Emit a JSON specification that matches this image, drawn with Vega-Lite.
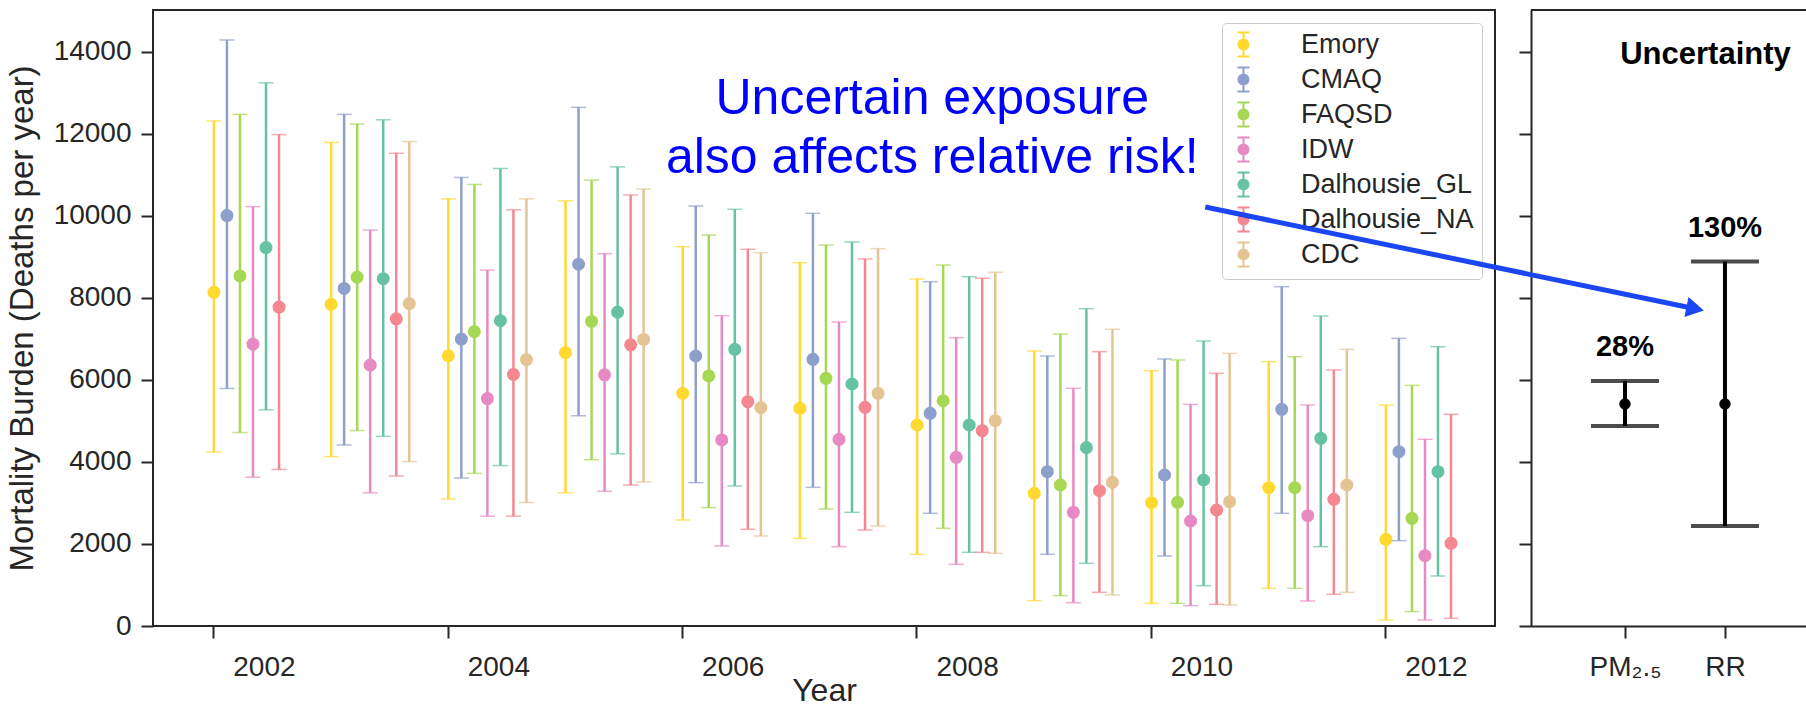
{
  "$schema": "https://vega.github.io/schema/vega-lite/v6.json",
  "padding": {"left": 5, "top": 9, "right": 0, "bottom": 0},
  "bounds": "flush",
  "spacing": 36,
  "resolve": {"scale": {"color": "independent"}, "legend": {"color": "independent"}},
  "config": {
    "font": "Liberation Sans",
    "view": {"stroke": "#262626", "strokeWidth": 2},
    "axis": {
      "grid": false, "labelFont": "Liberation Sans", "titleFont": "Liberation Sans",
      "labelColor": "#262626", "titleColor": "#262626", "tickColor": "#262626", "domainColor": "#262626",
      "labelFontSize": 28, "titleFontSize": 32, "titleFontWeight": "normal",
      "tickSize": 12, "tickWidth": 2, "domainWidth": 2
    },
    "legend": {
      "symbolType": "M-0.5,-1H0.5M0,-1V1M-0.5,1H0.5M0.42,0A0.42,0.42,0,1,1,-0.42,0A0.42,0.42,0,1,1,0.42,0Z",
      "symbolSize": 576, "symbolStrokeWidth": 2, "symbolOpacity": 1
    }
  },
  "datasets": {
    "burden": [
      {"year": 2002, "model": "Emory", "mean": 8139, "lower": 4245, "upper": 12318},
      {"year": 2002, "model": "CMAQ", "mean": 10010, "lower": 5793, "upper": 14293},
      {"year": 2002, "model": "FAQSD", "mean": 8538, "lower": 4720, "upper": 12479},
      {"year": 2002, "model": "IDW", "mean": 6876, "lower": 3628, "upper": 10228},
      {"year": 2002, "model": "Dalhousie_GL", "mean": 9231, "lower": 5271, "upper": 13248},
      {"year": 2002, "model": "Dalhousie_NA", "mean": 7778, "lower": 3818, "upper": 11985},
      {"year": 2003, "model": "Emory", "mean": 7844, "lower": 4131, "upper": 11795},
      {"year": 2003, "model": "CMAQ", "mean": 8234, "lower": 4416, "upper": 12479},
      {"year": 2003, "model": "FAQSD", "mean": 8509, "lower": 4767, "upper": 12242},
      {"year": 2003, "model": "IDW", "mean": 6363, "lower": 3248, "upper": 9658},
      {"year": 2003, "model": "Dalhousie_GL", "mean": 8471, "lower": 4625, "upper": 12346},
      {"year": 2003, "model": "Dalhousie_NA", "mean": 7493, "lower": 3656, "upper": 11529},
      {"year": 2003, "model": "CDC", "mean": 7863, "lower": 4008, "upper": 11814},
      {"year": 2004, "model": "Emory", "mean": 6591, "lower": 3096, "upper": 10418},
      {"year": 2004, "model": "CMAQ", "mean": 6999, "lower": 3609, "upper": 10940},
      {"year": 2004, "model": "FAQSD", "mean": 7180, "lower": 3723, "upper": 10770},
      {"year": 2004, "model": "IDW", "mean": 5546, "lower": 2678, "upper": 8680},
      {"year": 2004, "model": "Dalhousie_GL", "mean": 7446, "lower": 3913, "upper": 11159},
      {"year": 2004, "model": "Dalhousie_NA", "mean": 6135, "lower": 2678, "upper": 10152},
      {"year": 2004, "model": "CDC", "mean": 6496, "lower": 3011, "upper": 10418},
      {"year": 2005, "model": "Emory", "mean": 6667, "lower": 3248, "upper": 10371},
      {"year": 2005, "model": "CMAQ", "mean": 8823, "lower": 5128, "upper": 12650},
      {"year": 2005, "model": "FAQSD", "mean": 7427, "lower": 4055, "upper": 10874},
      {"year": 2005, "model": "IDW", "mean": 6126, "lower": 3286, "upper": 9079},
      {"year": 2005, "model": "Dalhousie_GL", "mean": 7655, "lower": 4198, "upper": 11197},
      {"year": 2005, "model": "Dalhousie_NA", "mean": 6857, "lower": 3438, "upper": 10513},
      {"year": 2005, "model": "CDC", "mean": 6990, "lower": 3514, "upper": 10656},
      {"year": 2006, "model": "Emory", "mean": 5675, "lower": 2585, "upper": 9252},
      {"year": 2006, "model": "CMAQ", "mean": 6585, "lower": 3496, "upper": 10244},
      {"year": 2006, "model": "FAQSD", "mean": 6098, "lower": 2886, "upper": 9536},
      {"year": 2006, "model": "IDW", "mean": 4537, "lower": 1951, "upper": 7569},
      {"year": 2006, "model": "Dalhousie_GL", "mean": 6748, "lower": 3415, "upper": 10163},
      {"year": 2006, "model": "Dalhousie_NA", "mean": 5471, "lower": 2358, "upper": 9187},
      {"year": 2006, "model": "CDC", "mean": 5325, "lower": 2195, "upper": 9106},
      {"year": 2007, "model": "Emory", "mean": 5309, "lower": 2138, "upper": 8862},
      {"year": 2007, "model": "CMAQ", "mean": 6504, "lower": 3382, "upper": 10065},
      {"year": 2007, "model": "FAQSD", "mean": 6041, "lower": 2854, "upper": 9293},
      {"year": 2007, "model": "IDW", "mean": 4553, "lower": 1935, "upper": 7415},
      {"year": 2007, "model": "Dalhousie_GL", "mean": 5902, "lower": 2772, "upper": 9366},
      {"year": 2007, "model": "Dalhousie_NA", "mean": 5333, "lower": 2341, "upper": 8951},
      {"year": 2007, "model": "CDC", "mean": 5675, "lower": 2439, "upper": 9203},
      {"year": 2008, "model": "Emory", "mean": 4902, "lower": 1748, "upper": 8463},
      {"year": 2008, "model": "CMAQ", "mean": 5187, "lower": 2748, "upper": 8398},
      {"year": 2008, "model": "FAQSD", "mean": 5496, "lower": 2382, "upper": 8805},
      {"year": 2008, "model": "IDW", "mean": 4114, "lower": 1504, "upper": 7032},
      {"year": 2008, "model": "Dalhousie_GL", "mean": 4902, "lower": 1797, "upper": 8520},
      {"year": 2008, "model": "Dalhousie_NA", "mean": 4764, "lower": 1797, "upper": 8480},
      {"year": 2008, "model": "CDC", "mean": 5008, "lower": 1772, "upper": 8626},
      {"year": 2009, "model": "Emory", "mean": 3236, "lower": 618, "upper": 6707},
      {"year": 2009, "model": "CMAQ", "mean": 3764, "lower": 1748, "upper": 6585},
      {"year": 2009, "model": "FAQSD", "mean": 3439, "lower": 740, "upper": 7122},
      {"year": 2009, "model": "IDW", "mean": 2772, "lower": 569, "upper": 5797},
      {"year": 2009, "model": "Dalhousie_GL", "mean": 4350, "lower": 1528, "upper": 7740},
      {"year": 2009, "model": "Dalhousie_NA", "mean": 3301, "lower": 821, "upper": 6691},
      {"year": 2009, "model": "CDC", "mean": 3504, "lower": 756, "upper": 7236},
      {"year": 2010, "model": "Emory", "mean": 3008, "lower": 553, "upper": 6228},
      {"year": 2010, "model": "CMAQ", "mean": 3683, "lower": 1707, "upper": 6512},
      {"year": 2010, "model": "FAQSD", "mean": 3016, "lower": 553, "upper": 6488},
      {"year": 2010, "model": "IDW", "mean": 2561, "lower": 496, "upper": 5406},
      {"year": 2010, "model": "Dalhousie_GL", "mean": 3561, "lower": 984, "upper": 6951},
      {"year": 2010, "model": "Dalhousie_NA", "mean": 2829, "lower": 528, "upper": 6163},
      {"year": 2010, "model": "CDC", "mean": 3032, "lower": 512, "upper": 6650},
      {"year": 2011, "model": "Emory", "mean": 3374, "lower": 919, "upper": 6447},
      {"year": 2011, "model": "CMAQ", "mean": 5285, "lower": 2748, "upper": 8276},
      {"year": 2011, "model": "FAQSD", "mean": 3374, "lower": 919, "upper": 6569},
      {"year": 2011, "model": "IDW", "mean": 2691, "lower": 610, "upper": 5390},
      {"year": 2011, "model": "Dalhousie_GL", "mean": 4577, "lower": 1935, "upper": 7561},
      {"year": 2011, "model": "Dalhousie_NA", "mean": 3089, "lower": 772, "upper": 6244},
      {"year": 2011, "model": "CDC", "mean": 3439, "lower": 821, "upper": 6748},
      {"year": 2012, "model": "Emory", "mean": 2114, "lower": 146, "upper": 5390},
      {"year": 2012, "model": "CMAQ", "mean": 4252, "lower": 2081, "upper": 7016},
      {"year": 2012, "model": "FAQSD", "mean": 2626, "lower": 350, "upper": 5870},
      {"year": 2012, "model": "IDW", "mean": 1715, "lower": 146, "upper": 4553},
      {"year": 2012, "model": "Dalhousie_GL", "mean": 3764, "lower": 1220, "upper": 6813},
      {"year": 2012, "model": "Dalhousie_NA", "mean": 2016, "lower": 187, "upper": 5163}
    ],
    "uncertainty": [
      {"source": "PM2.5", "center": 5415, "lower": 4878, "upper": 5975, "label": "28%"},
      {"source": "RR", "center": 5415, "lower": 2439, "upper": 8890, "label": "130%"}
    ]
  },
  "hconcat": [
    {
      "width": 1342,
      "height": 616,
      "data": {"name": "burden"},
      "encoding": {
        "x": {
          "field": "year", "type": "ordinal", "title": "Year",
          "scale": {"type": "band", "paddingInner": 0, "paddingOuter": 0.2254, "align": 1},
          "axis": {"values": [2002, 2004, 2006, 2008, 2010, 2012], "labelAngle": 0, "bandPosition": 0.0674, "domain": false, "labelPadding": 15, "titlePadding": -6}
        },
        "xOffset": {
          "field": "model", "type": "nominal",
          "sort": ["Emory", "CMAQ", "FAQSD", "IDW", "Dalhousie_GL", "Dalhousie_NA", "CDC"],
          "scale": {"type": "band", "paddingInner": 0, "paddingOuter": 2.2115, "align": 0.061}
        },
        "color": {
          "field": "model", "type": "nominal",
          "scale": {
            "domain": ["Emory", "CMAQ", "FAQSD", "IDW", "Dalhousie_GL", "Dalhousie_NA", "CDC"],
            "range": ["#ffd92f", "#8da0cb", "#a6d854", "#e78ac3", "#66c2a5", "#f4878f", "#e5c494"]
          },
          "legend": {
            "title": null, "orient": "top-right", "offset": 13,
            "labelFontSize": 27, "labelColor": "#262626", "labelOffset": 44, "labelLimit": 400,
            "strokeColor": "#cccccc", "fillColor": "white", "padding": 8, "cornerRadius": 4, "rowPadding": 2,
            "encode": {"symbols": {"update": {"stroke": {"scale": "color", "field": "value"}, "strokeWidth": {"value": 2}}}}
          }
        }
      },
      "layer": [
        {
          "mark": {"type": "rule", "strokeWidth": 2.5},
          "encoding": {
            "y": {"field": "lower", "type": "quantitative", "title": "Mortality Burden (Deaths per year)",
              "scale": {"domain": [0, 15024], "nice": false, "zero": false},
              "axis": {"values": [0, 2000, 4000, 6000, 8000, 10000, 12000, 14000], "format": "d", "domain": false, "labelPadding": 10, "titlePadding": 14, "titleFontSize": 33}},
            "y2": {"field": "upper"}
          }
        },
        {
          "mark": {"type": "tick", "thickness": 1.5, "size": 15},
          "encoding": {"y": {"field": "upper", "type": "quantitative", "title": "Mortality Burden (Deaths per year)"}}
        },
        {
          "mark": {"type": "tick", "thickness": 1.5, "size": 15},
          "encoding": {"y": {"field": "lower", "type": "quantitative", "title": "Mortality Burden (Deaths per year)"}}
        },
        {
          "mark": {"type": "point", "filled": true, "size": 170, "opacity": 1},
          "encoding": {"y": {"field": "mean", "type": "quantitative", "title": "Mortality Burden (Deaths per year)"}}
        }
      ]
    },
    {
      "width": 275,
      "height": 616,
      "view": {"stroke": null},
      "title": {"text": "Uncertainty", "fontSize": 31, "fontWeight": "bold", "color": "#000000", "anchor": "middle", "baseline": "middle", "offset": -77, "dx": 37},
      "layer": [
        {
          "data": {"name": "uncertainty"},
          "encoding": {
            "x": {"field": "source", "type": "nominal", "sort": ["PM2.5", "RR"],
              "scale": {"type": "point", "padding": 0.875, "align": 0.537},
              "axis": {"title": null, "labelAngle": 0, "labelPadding": 15, "labelExpr": "datum.value == 'PM2.5' ? 'PM₂.₅' : datum.value"}}
          },
          "layer": [
            {
              "mark": {"type": "rule", "color": "#000000", "strokeWidth": 4},
              "encoding": {
                "y": {"field": "lower", "type": "quantitative", "scale": {"domain": [0, 15024], "nice": false, "zero": false},
                  "axis": {"values": [0, 2000, 4000, 6000, 8000, 10000, 12000, 14000], "labels": false, "title": null, "domain": true}},
                "y2": {"field": "upper"}
              }
            },
            {"mark": {"type": "tick", "color": "#000000", "thickness": 4, "size": 68}, "encoding": {"y": {"field": "upper", "type": "quantitative"}}},
            {"mark": {"type": "tick", "color": "#000000", "thickness": 4, "size": 68}, "encoding": {"y": {"field": "lower", "type": "quantitative"}}},
            {"mark": {"type": "point", "filled": true, "color": "#000000", "size": 130, "opacity": 1}, "encoding": {"y": {"field": "center", "type": "quantitative"}}},
            {"mark": {"type": "text", "fontSize": 29, "fontWeight": "bold", "color": "#000000", "baseline": "middle", "dy": -34},
              "encoding": {"y": {"field": "upper", "type": "quantitative"}, "text": {"field": "label"}}}
          ]
        },
        {
          "data": {"values": [{}]},
          "mark": {"type": "rule", "color": "#262626", "strokeWidth": 2},
          "encoding": {"y": {"datum": 15024, "type": "quantitative"}}
        },
        {
          "data": {"values": [{}]},
          "encoding": {},
          "layer": [
            {
              "mark": {"type": "text", "text": ["Uncertain exposure", "also affects relative risk!"], "fontSize": 50, "lineHeight": 59, "align": "center", "baseline": "middle", "color": "#0000ff"},
              "encoding": {
                "x": {"datum": 2008.13, "type": "quantitative", "scale": {"domain": [2013.24, 2015.587], "nice": false, "zero": false}, "axis": null},
                "y": {"datum": 12854, "type": "quantitative"}
              }
            },
            {
              "mark": {"type": "rule", "color": "#1c46f2", "strokeWidth": 5},
              "encoding": {
                "x": {"datum": 2010.46, "type": "quantitative"},
                "y": {"datum": 10219, "type": "quantitative"},
                "x2": {"datum": 2014.641},
                "y2": {"datum": 7737}
              }
            },
            {
              "mark": {"type": "point", "shape": "triangle-right", "angle": 11.7, "filled": true, "color": "#1c46f2", "size": 420, "opacity": 1},
              "encoding": {
                "x": {"datum": 2014.641, "type": "quantitative"},
                "y": {"datum": 7737, "type": "quantitative"}
              }
            }
          ]
        }
      ],
      "resolve": {"scale": {"x": "independent"}, "axis": {"x": "independent"}}
    }
  ]
}
